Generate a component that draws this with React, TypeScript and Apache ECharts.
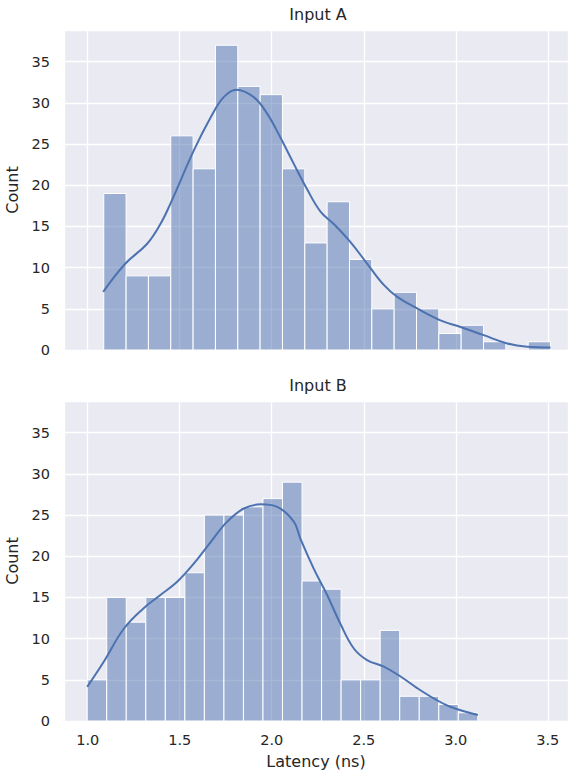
import React, { useEffect, useRef } from "react";
import * as echarts from "echarts";

// Histogram bin layout (equal-width bins)
const binStartA = 1.087;
const binWidthA = 0.1214;
const countsA = [19, 9, 9, 26, 22, 37, 32, 31, 22, 13, 18, 11, 5, 7, 5, 2, 3, 1, 0, 1];

const binStartB = 0.997;
const binWidthB = 0.10615;
const countsB = [5, 15, 12, 15, 15, 18, 25, 25, 26, 27, 29, 17, 16, 5, 5, 11, 3, 3, 2, 1];

// KDE curves
const kdeAx = [1.084, 1.205, 1.323, 1.395, 1.45, 1.576, 1.667, 1.739, 1.808, 1.902, 1.975, 2.047, 2.12, 2.19, 2.265, 2.337, 2.428, 2.518, 2.609, 2.682, 2.79, 2.917, 3.026, 3.152, 3.28, 3.388, 3.515];
const kdeAy = [7.06, 10.5, 12.9, 15.3, 17.8, 24.2, 28.2, 30.7, 31.6, 30.7, 28.7, 25.8, 22.6, 19.6, 16.8, 15.3, 13.1, 10.5, 7.9, 6.45, 5.05, 3.6, 2.8, 1.8, 0.8, 0.4, 0.3];

const kdeBx = [0.997, 1.087, 1.196, 1.304, 1.395, 1.486, 1.576, 1.667, 1.758, 1.848, 1.939, 2.029, 2.12, 2.156, 2.228, 2.301, 2.373, 2.446, 2.518, 2.609, 2.7, 2.79, 2.88, 2.97, 3.12];
const kdeBy = [4.15, 7.2, 11.2, 13.7, 15.3, 16.9, 19.1, 21.7, 24.2, 25.8, 26.3, 26.0, 24.2, 22.1, 18.5, 15.3, 11.8, 8.8, 7.4, 6.6, 5.4, 4.0, 2.75, 1.73, 0.73];

const titles = ["Input A", "Input B"];
const yLabel = "Count";
const xLabel = "Latency (ns)";

const X_MIN = 0.871;
const X_MAX = 3.61;
const Y_MAX = 38.85;

const TEXT = "#262626";
const BG = "#EAEAF2";
const BLUE = "#4C72B0";

function bins(start: number, width: number, counts: number[]) {
  return counts.map((c, i) => [start + width * i, start + width * (i + 1), c]);
}

export default function App() {
  const ref = useRef<HTMLDivElement>(null);
  useEffect(() => {
    if (!ref.current) return;
    const chart = echarts.init(ref.current, null, { renderer: "svg" });
    const font = "DejaVu Sans";

    const renderBar = (params: any, api: any) => {
      const x0 = api.value(0);
      const x1 = api.value(1);
      const c = api.value(2);
      if (!c) return null;
      const p0 = api.coord([x0, c]);
      const p1 = api.coord([x1, 0]);
      return {
        type: "rect",
        shape: { x: p0[0], y: p0[1], width: p1[0] - p0[0], height: p1[1] - p0[1] },
        style: { fill: "rgba(76,114,176,0.5)", stroke: "#ffffff", lineWidth: 1 },
      };
    };

    const mkX = (idx: number, showLabels: boolean) => ({
      type: "value",
      gridIndex: idx,
      min: X_MIN,
      max: X_MAX,
      minInterval: 0.5,
      maxInterval: 0.5,
      axisLine: { show: false },
      axisTick: { show: false },
      splitLine: { show: true, lineStyle: { color: "#ffffff", width: 1.3 } },
      axisLabel: {
        show: showLabels,
        showMinLabel: false,
        showMaxLabel: false,
        color: TEXT,
        fontFamily: font,
        fontSize: 14.5,
        margin: 11,
        formatter: (v: number) => v.toFixed(1),
      },
      name: showLabels ? xLabel : "",
      nameLocation: "middle",
      nameGap: 32,
      nameTextStyle: { color: TEXT, fontFamily: font, fontSize: 16 },
    });

    const mkY = (idx: number) => ({
      type: "value",
      gridIndex: idx,
      min: 0,
      max: Y_MAX,
      minInterval: 5,
      maxInterval: 5,
      axisLine: { show: false },
      axisTick: { show: false },
      splitLine: { show: true, lineStyle: { color: "#ffffff", width: 1.3 } },
      axisLabel: {
        showMaxLabel: false,
        color: TEXT,
        fontFamily: font,
        fontSize: 14.5,
        margin: 14,
      },
      name: yLabel,
      nameLocation: "middle",
      nameGap: 37,
      nameTextStyle: { color: TEXT, fontFamily: font, fontSize: 16 },
    });

    chart.setOption({
      animation: false,
      title: [
        {
          text: titles[0],
          left: 318,
          top: 6.5,
          padding: 0,
          textAlign: "center",
          textStyle: { color: TEXT, fontFamily: font, fontSize: 16, fontWeight: "normal" },
        },
        {
          text: titles[1],
          left: 318,
          top: 377.5,
          padding: 0,
          textAlign: "center",
          textStyle: { color: TEXT, fontFamily: font, fontSize: 16, fontWeight: "normal" },
        },
      ],
      grid: [
        {
          left: 64, top: 30, right: 0, height: 320,
          outerBoundsMode: "none", containLabel: false,
          show: true, backgroundColor: BG, borderWidth: 0,
        },
        {
          left: 64, top: 401, right: 0, height: 320,
          outerBoundsMode: "none", containLabel: false,
          show: true, backgroundColor: BG, borderWidth: 0,
        },
      ],
      xAxis: [mkX(0, false), mkX(1, true)],
      yAxis: [mkY(0), mkY(1)],
      series: [
        {
          type: "custom",
          xAxisIndex: 0,
          yAxisIndex: 0,
          renderItem: renderBar,
          data: bins(binStartA, binWidthA, countsA),
          encode: { x: [0, 1], y: 2 },
        },
        {
          type: "custom",
          xAxisIndex: 1,
          yAxisIndex: 1,
          renderItem: renderBar,
          data: bins(binStartB, binWidthB, countsB),
          encode: { x: [0, 1], y: 2 },
        },
        {
          type: "line",
          xAxisIndex: 0,
          yAxisIndex: 0,
          data: kdeAx.map((x, i) => [x, kdeAy[i]]),
          smooth: 0.4,
          symbol: "none",
          lineStyle: { color: BLUE, width: 2 },
          z: 5,
        },
        {
          type: "line",
          xAxisIndex: 1,
          yAxisIndex: 1,
          data: kdeBx.map((x, i) => [x, kdeBy[i]]),
          smooth: 0.4,
          symbol: "none",
          lineStyle: { color: BLUE, width: 2 },
          z: 5,
        },
      ],
    });
    return () => chart.dispose();
  }, []);
  return (
    <div
      ref={ref}
      style={{ position: "absolute", left: 0, top: 0, width: 568, height: 773 }}
    />
  );
}
